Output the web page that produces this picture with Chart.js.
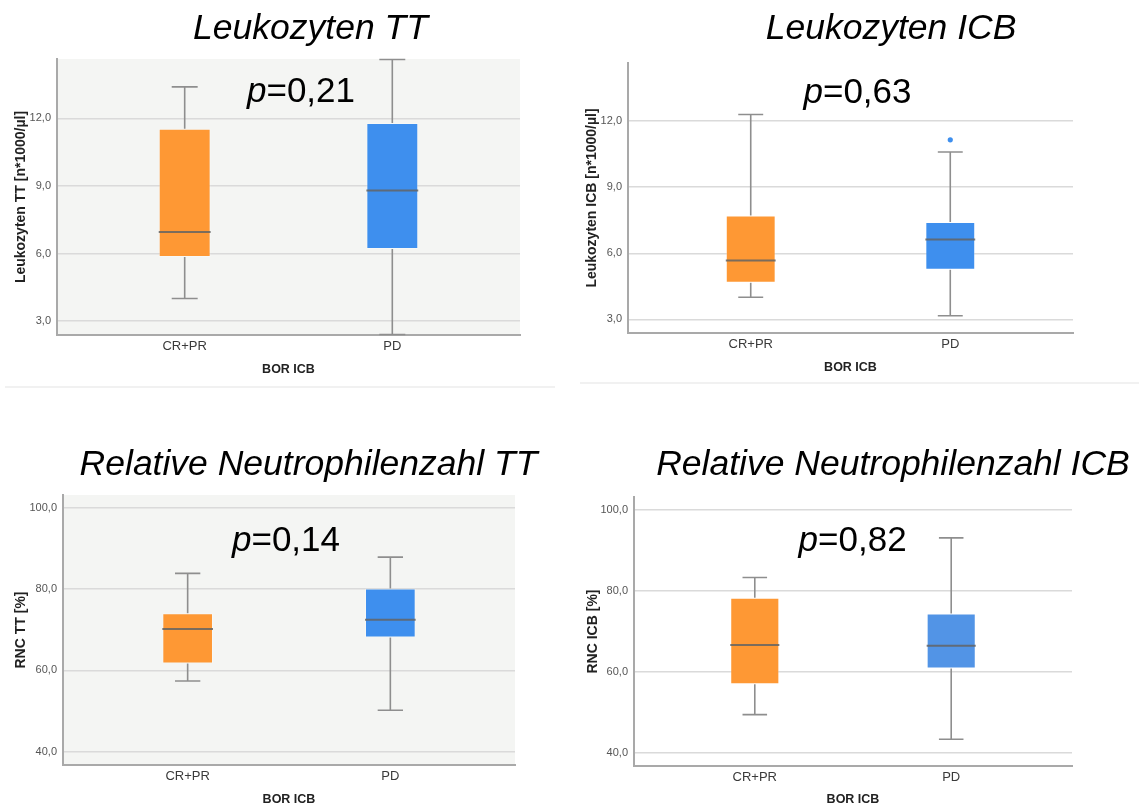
<!DOCTYPE html>
<html>
<head>
<meta charset="utf-8">
<script src="https://cdn.jsdelivr.net/npm/chart.js@4.4.0/dist/chart.umd.min.js"></script>
<style>
  body { margin: 0; background: #fff; width: 1144px; height: 809px; overflow: hidden; position: relative; }
  canvas { position: absolute; }
</style>
</head>
<body>
<canvas id="c1" width="560" height="390" style="left:0;top:0"></canvas>
<canvas id="c2" width="569" height="390" style="left:575px;top:0"></canvas>
<canvas id="c3" width="560" height="389" style="left:0;top:420px"></canvas>
<canvas id="c4" width="569" height="389" style="left:575px;top:420px"></canvas>
<script>
const groups = ['CR+PR', 'PD'];

// Leukozyten TT
const leukoTT_min = [4.0, 2.4];
const leukoTT_q1  = [5.84, 6.2];
const leukoTT_med = [6.96, 8.8];
const leukoTT_q3  = [11.54, 11.8];
const leukoTT_max = [13.4, 14.62];
const leukoTT_out = [[], []];

// Leukozyten ICB
const leukoICB_min = [4.0, 3.16];
const leukoICB_q1  = [4.66, 5.25];
const leukoICB_med = [5.67, 6.63];
const leukoICB_q3  = [7.72, 7.42];
const leukoICB_max = [12.3, 10.6];
const leukoICB_out = [[], [11.15]];

// Relative Neutrophilenzahl TT
const rncTT_min = [57.4, 50.2];
const rncTT_q1  = [61.7, 68.1];
const rncTT_med = [70.2, 72.5];
const rncTT_q3  = [74.1, 80.2];
const rncTT_max = [83.9, 87.9];
const rncTT_out = [[], []];

// Relative Neutrophilenzahl ICB
const rncICB_min = [49.4, 43.3];
const rncICB_q1  = [56.9, 60.8];
const rncICB_med = [66.6, 66.4];
const rncICB_q3  = [78.3, 74.4];
const rncICB_max = [83.3, 93.1];
const rncICB_out = [[], []];

const leukoTicks = [3, 6, 9, 12];
const rncTicks = [40, 60, 80, 100];

const FONT = '"Liberation Sans", Arial, Helvetica, sans-serif';
const ORANGE = '#fe9834';
const BLUE = '#3e8fee';

// whiskers, medians, outliers, titles and p values
function boxPlugin(p) {
    return {
        id: 'boxExtras',
        beforeDraw(chart) {
            if (!p.plotBg) return;
            const a = chart.chartArea, ctx = chart.ctx;
            ctx.save();
            ctx.fillStyle = p.plotBg;
            ctx.fillRect(a.left, a.top, a.right - a.left, a.bottom - a.top);
            ctx.restore();
        },
        beforeDatasetsDraw(chart) {
            const ctx = chart.ctx, y = chart.scales.y;
            const meta = chart.getDatasetMeta(0);
            ctx.save();
            ctx.strokeStyle = '#8e8e8e';
            ctx.lineWidth = 1.6;
            meta.data.forEach((bar, i) => {
                const x = bar.x, half = bar.width / 4;
                const yMin = y.getPixelForValue(p.min[i]);
                const yMax = y.getPixelForValue(p.max[i]);
                const yQ1 = y.getPixelForValue(p.q1[i]);
                const yQ3 = y.getPixelForValue(p.q3[i]);
                ctx.beginPath();
                ctx.moveTo(x, yMax); ctx.lineTo(x, yQ3);
                ctx.moveTo(x, yQ1); ctx.lineTo(x, yMin);
                ctx.moveTo(x - half, yMax); ctx.lineTo(x + half, yMax);
                ctx.moveTo(x - half, yMin); ctx.lineTo(x + half, yMin);
                ctx.stroke();
            });
            ctx.restore();
        },
        afterDatasetsDraw(chart) {
            const ctx = chart.ctx, y = chart.scales.y;
            const meta = chart.getDatasetMeta(0);
            ctx.save();
            meta.data.forEach((bar, i) => {
                const yMed = y.getPixelForValue(p.med[i]);
                ctx.strokeStyle = 'rgba(100,100,100,0.85)';
                ctx.lineWidth = 2;
                ctx.beginPath();
                ctx.moveTo(bar.x - bar.width / 2, yMed);
                ctx.lineTo(bar.x + bar.width / 2, yMed);
                ctx.stroke();
                ctx.fillStyle = p.colors[i];
                p.out[i].forEach(v => {
                    ctx.beginPath();
                    ctx.arc(bar.x, y.getPixelForValue(v), 2.6, 0, Math.PI * 2);
                    ctx.fill();
                });
            });
            ctx.restore();
        },
        afterDraw(chart) {
            const ctx = chart.ctx;
            ctx.save();
            ctx.fillStyle = '#000';
            ctx.textBaseline = 'alphabetic';
            ctx.textAlign = 'center';
            ctx.font = 'italic 35.5px ' + FONT;
            ctx.fillText(p.title, p.titleX, p.titleY);
            // p value: italic p, upright rest
            ctx.textAlign = 'left';
            ctx.font = 'italic 35px ' + FONT;
            const w1 = ctx.measureText('p').width;
            ctx.font = '35px ' + FONT;
            const w2 = ctx.measureText('=' + p.pval).width;
            const x0 = p.pX - (w1 + w2) / 2;
            ctx.font = 'italic 35px ' + FONT;
            ctx.fillText('p', x0, p.pY);
            ctx.font = '35px ' + FONT;
            ctx.fillText('=' + p.pval, x0 + w1, p.pY);
            // separator under panel
            if (p.sepY) {
                ctx.strokeStyle = '#ececec';
                ctx.lineWidth = 1.5;
                ctx.beginPath();
                ctx.moveTo(5, p.sepY);
                ctx.lineTo(chart.width - 5, p.sepY);
                ctx.stroke();
            }
            ctx.restore();
        }
    };
}

function makeChart(id, p) {
    const data = groups.map((g, i) => ({x: i, y: [p.q1[i], p.q3[i]]}));
    return new Chart(document.getElementById(id), {
        type: 'bar',
        data: {
            datasets: [{
                data: data,
                backgroundColor: p.colors,
                borderColor: 'rgba(255,255,255,0.3)',
                borderWidth: 1,
                borderSkipped: false,
                barPercentage: 0.25,
                categoryPercentage: 1
            }]
        },
        options: {
            responsive: false,
            animation: false,
            devicePixelRatio: 1,
            layout: { padding: { top: p.top, right: p.padR, left: 0, bottom: 0 } },
            plugins: {
                legend: { display: false },
                tooltip: { enabled: false }
            },
            scales: {
                x: {
                    type: 'linear',
                    offset: false,
                    min: -0.615,
                    max: 1.615,
                    afterBuildTicks: s => { s.ticks = groups.map((g, i) => ({value: i})); },
                    afterFit: s => { s.height = p.xH; },
                    ticks: {
                        callback: v => groups[v],
                        font: { family: FONT, size: 13 },
                        color: '#3a3a3a',
                        padding: 4
                    },
                    grid: { display: false, drawTicks: false, offset: false },
                    border: { display: true, color: '#a9a9a9', width: 2 },
                    title: {
                        display: true,
                        text: 'BOR ICB',
                        font: { family: FONT, size: 12.5, weight: 'bold' },
                        color: '#222',
                        padding: { top: 0, bottom: p.xTitlePad }
                    }
                },
                y: {
                    min: p.yMin,
                    max: p.yMax,
                    afterBuildTicks: s => { s.ticks = p.ticks.map(v => ({value: v})); },
                    afterFit: s => { s.width = p.yW; },
                    ticks: {
                        callback: v => v.toFixed(1).replace('.', ','),
                        font: { family: FONT, size: 11 },
                        color: '#555',
                        padding: 6
                    },
                    grid: { color: '#dadada', lineWidth: 1.5, drawTicks: false },
                    border: { display: true, color: '#a9a9a9', width: 2 },
                    title: {
                        display: true,
                        text: p.yTitle,
                        font: { family: FONT, size: 14, weight: 'bold' },
                        color: '#222',
                        padding: { top: p.yTitlePad, bottom: 0 }
                    }
                }
            }
        },
        plugins: [boxPlugin(p)]
    });
}

makeChart('c1', {
    min: leukoTT_min, q1: leukoTT_q1, med: leukoTT_med, q3: leukoTT_q3, max: leukoTT_max, out: leukoTT_out,
    ticks: leukoTicks, yMin: 2.38, yMax: 14.64,
    colors: [ORANGE, BLUE], plotBg: '#f4f5f3',
    yTitle: 'Leukozyten TT [n*1000/µl]',
    title: 'Leukozyten TT', titleX: 310.5, titleY: 39,
    pval: '0,21', pX: 301, pY: 101.7,
    top: 59, padR: 40, yW: 57, xH: 55, yTitlePad: 12.6, xTitlePad: 12.8, sepY: 387
});

makeChart('c2', {
    min: leukoICB_min, q1: leukoICB_q1, med: leukoICB_med, q3: leukoICB_q3, max: leukoICB_max, out: leukoICB_out,
    ticks: leukoTicks, yMin: 2.38, yMax: 14.64,
    colors: [ORANGE, BLUE], plotBg: null,
    yTitle: 'Leukozyten ICB [n*1000/µl]',
    title: 'Leukozyten ICB', titleX: 316, titleY: 39,
    pval: '0,63', pX: 282.5, pY: 103,
    top: 63, padR: 71, yW: 53, xH: 57, yTitlePad: 9.2, xTitlePad: 14.8, sepY: 383
});

makeChart('c3', {
    min: rncTT_min, q1: rncTT_q1, med: rncTT_med, q3: rncTT_q3, max: rncTT_max, out: rncTT_out,
    ticks: rncTicks, yMin: 36.7, yMax: 103.2,
    colors: [ORANGE, BLUE], plotBg: '#f4f5f3',
    yTitle: 'RNC TT [%]',
    title: 'Relative Neutrophilenzahl TT', titleX: 308.5, titleY: 55,
    pval: '0,14', pX: 286, pY: 131,
    top: 75, padR: 45, yW: 63, xH: 44, yTitlePad: 13.2, xTitlePad: 2, sepY: null
});

makeChart('c4', {
    min: rncICB_min, q1: rncICB_q1, med: rncICB_med, q3: rncICB_q3, max: rncICB_max, out: rncICB_out,
    ticks: rncTicks, yMin: 36.7, yMax: 103.2,
    colors: [ORANGE, '#5294e6'], plotBg: null,
    yTitle: 'RNC ICB [%]',
    title: 'Relative Neutrophilenzahl ICB', titleX: 318, titleY: 55,
    pval: '0,82', pX: 277.6, pY: 130.7,
    top: 77, padR: 72, yW: 59, xH: 43, yTitlePad: 10.2, xTitlePad: 2, sepY: null
});
</script>
</body>
</html>
